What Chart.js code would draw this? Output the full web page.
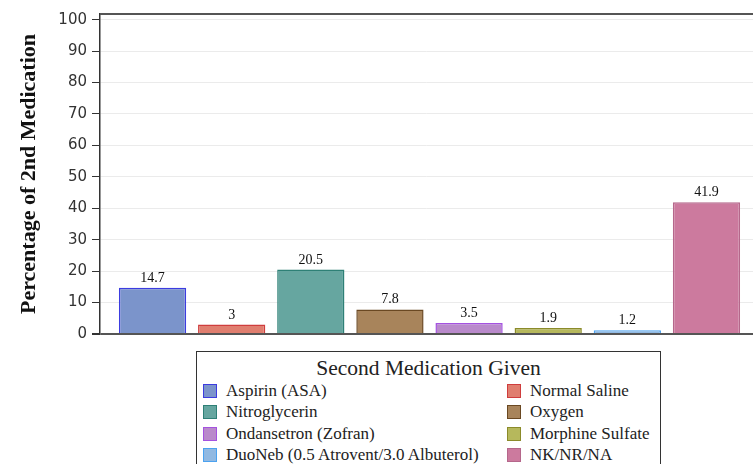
<!DOCTYPE html>
<html>
<head>
<meta charset="utf-8">
<script src="https://cdn.jsdelivr.net/npm/chart.js@4"></script>
<style>
  html, body { margin: 0; padding: 0; background: #fff; overflow: hidden; }
  #wrap { position: relative; width: 753px; height: 464px; }
  #legend {
    position: absolute; left: 196px; top: 351px; width: 463px; height: 130px;
    border: 1px solid #333; background: #fff;
    font-family: "Liberation Serif", serif; color: #222;
  }
  #legend .title { text-align: center; font-size: 21.5px; line-height: 24px; padding-top: 4px; }
  #legend .items { display: grid; grid-template-columns: 304px auto; padding-left: 6px; }
  #legend .item { height: 21.5px; display: flex; align-items: center; font-size: 17px; white-space: nowrap; }
  #legend .sw { width: 12px; height: 12px; border: 1px solid; margin-right: 9px; flex: none; }
</style>
</head>
<body>
<div id="wrap">
  <canvas id="myChart" width="753" height="464"></canvas>
  <div id="legend"><div class="title">Second Medication Given</div><div class="items"></div></div>
</div>
<script>
const categories = ['Aspirin (ASA)', 'Normal Saline', 'Nitroglycerin', 'Oxygen',
  'Ondansetron (Zofran)', 'Morphine Sulfate', 'DuoNeb (0.5 Atrovent/3.0 Albuterol)', 'NK/NR/NA'];
const percentages = [14.7, 3, 20.5, 7.8, 3.5, 1.9, 1.2, 41.9];
const yTicks = [0, 10, 20, 30, 40, 50, 60, 70, 80, 90, 100];
const fillColors = ['#7b94cb', '#e07e6f', '#66a6a0', '#a8845b', '#b98acb', '#b6b85c', '#91b9e2', '#cc7a9e'];
const lineColors = ['#3c3ce0', '#cf3d3d', '#2e8076', '#6a4822', '#a452e0', '#8b8b2a', '#4ba2f0', '#b5678b'];

// legend box (html)
const items = document.querySelector('#legend .items');
categories.forEach((c, i) => {
  const d = document.createElement('div');
  d.className = 'item';
  d.innerHTML = '<span class="sw" style="background:' + fillColors[i] + ';border-color:' + lineColors[i] + '"></span>';
  d.appendChild(document.createTextNode(c));
  items.appendChild(d);
});

// values above bars + top frame line
const barLabels = {
  id: 'barLabels',
  afterDatasetsDraw(chart) {
    const ctx = chart.ctx;
    const meta = chart.getDatasetMeta(0);
    ctx.save();
    ctx.font = '14px "Liberation Serif"';
    ctx.fillStyle = '#111';
    ctx.textAlign = 'center';
    ctx.textBaseline = 'alphabetic';
    meta.data.forEach((bar, i) => ctx.fillText(String(percentages[i]), bar.x, bar.y - 6));
    const a = chart.chartArea;
    ctx.strokeStyle = '#555';
    ctx.lineWidth = 2;
    ctx.beginPath();
    ctx.moveTo(a.left, a.top);
    ctx.lineTo(a.right, a.top);
    ctx.stroke();
    ctx.restore();
  }
};

const ctx = document.getElementById('myChart').getContext('2d');
new Chart(ctx, {
  type: 'bar',
  data: {
    datasets: [{
      data: percentages.map((v, i) => ({ x: i, y: v })),
      backgroundColor: fillColors,
      borderColor: lineColors,
      borderWidth: 1.5,
      barPercentage: 0.85,
      categoryPercentage: 1
    }]
  },
  options: {
    responsive: false,
    animation: false,
    layout: { padding: { top: 12, bottom: 130, left: 0, right: 0 } },
    plugins: { legend: { display: false }, tooltip: { enabled: false } },
    scales: {
      x: { type: 'linear', min: -0.664, max: 7.588, offset: false, grid: { offset: false }, display: false },
      y: {
        min: 0, max: 101.8,
        afterBuildTicks: (s) => { s.ticks = yTicks.map(v => ({ value: v })); },
        afterFit: (s) => { s.width = 100; },
        border: { color: '#333', width: 1.5 },
        grid: {
          color: (c) => c.tick && c.tick.value === 0 ? '#555' : '#ebebeb',
          lineWidth: (c) => c.tick && c.tick.value === 0 ? 2 : 1,
          tickColor: '#333', tickLength: 8
        },
        ticks: { color: '#333', padding: 5, font: { family: 'DejaVu Sans', size: 15 } },
        title: {
          display: true, text: 'Percentage of 2nd Medication', color: '#111',
          padding: { top: 16, bottom: 0 },
          font: { family: 'Liberation Serif', size: 22, weight: 'bold' }
        }
      }
    }
  },
  plugins: [barLabels]
});
</script>
</body>
</html>
